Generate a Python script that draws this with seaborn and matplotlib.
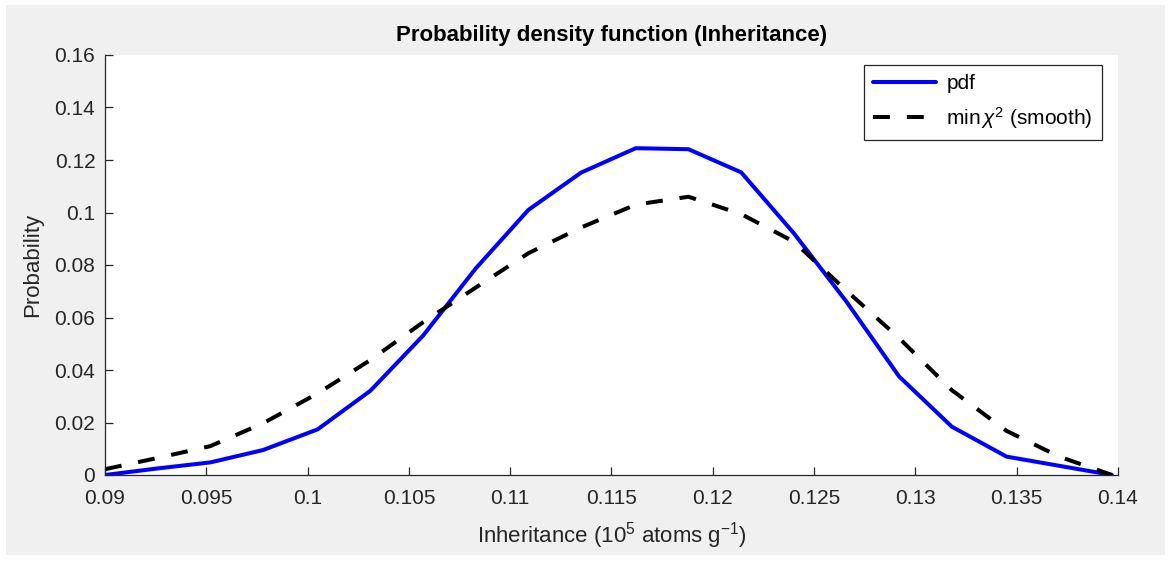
import numpy as np
import pandas as pd
import seaborn as sns
import matplotlib
matplotlib.use("Agg")
import matplotlib.pyplot as plt
from matplotlib.patches import Rectangle

# ---- data ----
inheritance = [0.0900, 0.0926, 0.0952, 0.0978, 0.1005, 0.1031, 0.1057, 0.1083,
               0.1109, 0.1135, 0.1162, 0.1188, 0.1214, 0.1240, 0.1266, 0.1292,
               0.1318, 0.1345, 0.1371, 0.1397]
pdf_vals = [0.0000, 0.0025, 0.0048, 0.0095, 0.0174, 0.0321, 0.0531, 0.0787,
            0.1010, 0.1152, 0.1245, 0.1241, 0.1153, 0.0921, 0.0660, 0.0375,
            0.0184, 0.0070, 0.0035, 0.0000]
chi2_vals = [0.0022, 0.0065, 0.0110, 0.0197, 0.0311, 0.0438, 0.0582, 0.0714,
             0.0845, 0.0943, 0.1030, 0.1060, 0.0994, 0.0889, 0.0702, 0.0521,
             0.0323, 0.0168, 0.0070, 0.0000]
xticks = [0.09, 0.095, 0.1, 0.105, 0.11, 0.115, 0.12, 0.125, 0.13, 0.135, 0.14]
yticks = [0, 0.02, 0.04, 0.06, 0.08, 0.1, 0.12, 0.14, 0.16]
xtick_labels = ["0.09", "0.095", "0.1", "0.105", "0.11", "0.115", "0.12",
                "0.125", "0.13", "0.135", "0.14"]
ytick_labels = ["0", "0.02", "0.04", "0.06", "0.08", "0.1", "0.12", "0.14", "0.16"]

sns.set_theme(style="white")
plt.rcParams['font.family'] = ['Liberation Sans', 'DejaVu Sans']
plt.rcParams['mathtext.fontset'] = 'custom'
plt.rcParams['mathtext.rm'] = 'Liberation Sans'
plt.rcParams['mathtext.it'] = 'Liberation Sans:italic'

W, H = 1171, 561
fig = plt.figure(figsize=(W / 100, H / 100), dpi=100, facecolor="white")
fig.patches.append(Rectangle((6 / W, 6 / H), 1 - 12 / W, 1 - 11 / H,
                             transform=fig.transFigure, facecolor="#f0f0f0",
                             edgecolor="none", zorder=-10))

ax = fig.add_axes([105 / W, 1 - 475 / H, (1118 - 105) / W, (475 - 55) / H])
ax.set_facecolor("white")

df = pd.DataFrame({"x": inheritance, "pdf": pdf_vals, "chi2": chi2_vals})
sns.lineplot(data=df, x="x", y="pdf", ax=ax, color="#0000ff", lw=2.9,
             label="pdf", solid_joinstyle="round")
sns.lineplot(data=df, x="x", y="chi2", ax=ax, color="black", lw=2.9,
             linestyle=(0, (4.2, 4.2)), label=r"min$\,\chi^2$ (smooth)")

ax.set_xlim(0.09, 0.14)
ax.set_ylim(0, 0.16)
ax.set_xticks(xticks)
ax.set_xticklabels(xtick_labels)
ax.set_yticks(yticks)
ax.set_yticklabels(ytick_labels)

for s in ["top", "right"]:
    ax.spines[s].set_visible(False)
for s in ["left", "bottom"]:
    ax.spines[s].set_color("#262626")
    ax.spines[s].set_linewidth(0.9)

ax.tick_params(axis="both", which="both", direction="in", length=6, width=0.9,
               color="#262626", labelsize=15, labelcolor="#262626",
               bottom=True, left=True)
ax.tick_params(axis="x", pad=10)
ax.tick_params(axis="y", pad=7)

ax.set_xlabel(r"Inheritance (10$^5$ atoms g$^{-1}$)", fontsize=16,
              color="#262626", labelpad=9)
ax.set_ylabel("Probability", fontsize=16, color="#262626", labelpad=8)
ax.set_title("Probability density function (Inheritance)", fontsize=16,
             fontweight="bold", color="black", pad=10)

leg = ax.legend(loc="upper right", bbox_to_anchor=(1102 / W, 1 - 65 / H),
                bbox_transform=fig.transFigure, fontsize=15, frameon=True,
                fancybox=False, framealpha=1, edgecolor="#262626",
                handlelength=3.0, handletextpad=0.5, borderpad=0.45,
                labelspacing=0.55, borderaxespad=0)
leg.get_frame().set_linewidth(0.9)
for t in leg.get_texts():
    t.set_color("black")

fig.savefig("out.png", dpi=100, facecolor=fig.get_facecolor())
